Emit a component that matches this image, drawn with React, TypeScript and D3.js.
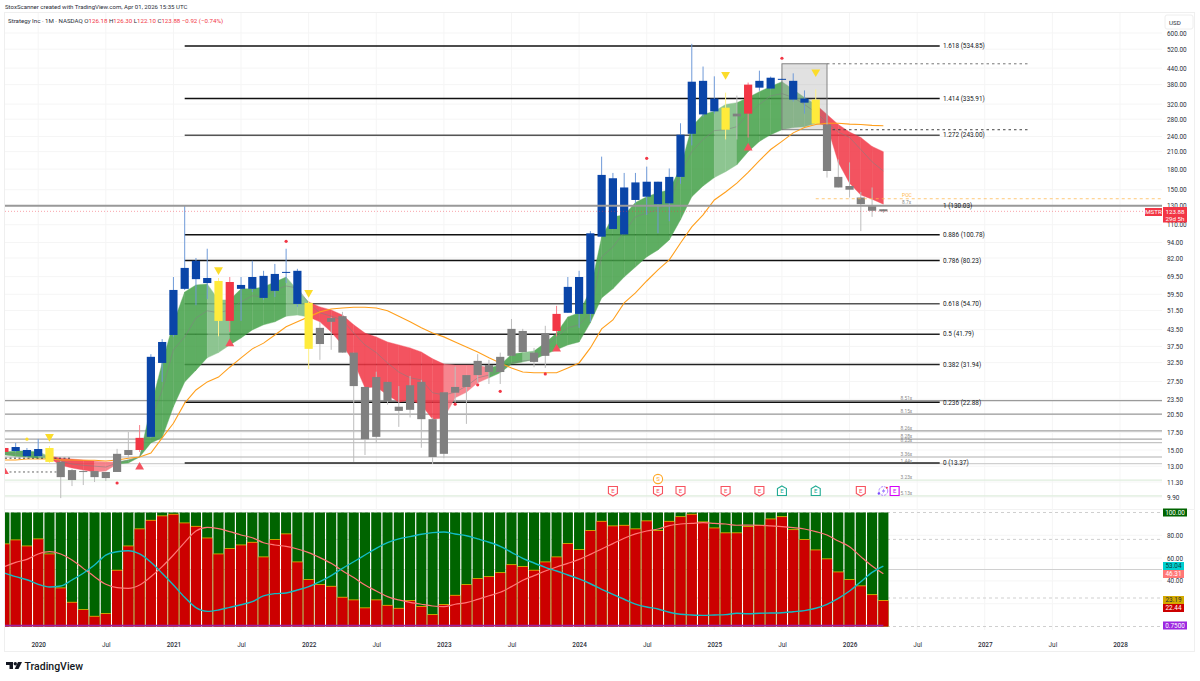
import { useRef, useEffect } from "react";
import * as d3 from "d3";

// months are counted from Jan 2020 = 0, first bar is Oct 2019
const firstMonth = -3;

const opens = [14.74,14.87,15.0,14.2,15.27,13.5,11.5,12.45,12.45,11.7,12.35,14.35,15.0,16.85,32.4,41.5,62.4,80,68.7,66.9,47,64.6,62.4,70,61.3,72.5,73.2,55.1,38.3,46.6,49,35.5,26.2,16.85,27.4,22,21.4,27.4,19.7,14.5,24.9,26.2,29.1,31.8,29.9,34.5,43,35.5,34.5,43,50.5,50,50,99,166,101,160,141,161,133,168,246,393,300,310,294,294,370,367,400,393,324,333,267,168,155,140,130,126.18];
const highs = [15.27,15.97,15.27,16.55,15.54,13.6,12.68,12.56,12.45,12.35,15.15,17.6,18.7,35,40,69.3,131,82,89,68.7,69.3,69.3,80,73.2,77.8,89,74.5,56,46.6,48.6,50.9,35.5,26.2,30,27.4,26.4,28.9,27.9,20,25,31.3,29.1,35,33.3,35.5,47.8,43.8,37,45,53.7,69.3,73.2,104,201,174,174,174,184,161,181,270,545,446,409,354,345,387,430,408,400,420,361,364,305,196,191,147,153,126.3];
const lows = [14.74,14.74,14.1,14.2,13.37,9.8,10.9,11,11.3,11.4,12.35,13.95,14.75,16.7,27.4,40.8,61.8,54,57,41,42.6,47,60.7,56.6,58.1,65.7,53.2,30.7,33.3,36.4,35.5,13.5,14.35,15.95,22.4,18.4,20,15.3,13.25,13.95,22.8,18.9,27.2,26.9,26.9,34.5,35.7,31.2,31,41,50.5,44.2,46.6,99,106,101,133,120,102,113.5,158,222,286,294,234,234,238,360,364,397,327,294,269,167,153,140,104,118,122.1];
const closes = [15.27,15.4,14.2,15.13,13.5,11.8,12.56,12.35,11.8,12.35,14.5,15.0,16.7,34.2,39,61.8,75.1,68,65.7,47,66.3,62.4,69.3,57.6,71.2,72.2,54.6,36.7,44.2,48.2,35.5,26.4,16.5,28.6,23.1,21.2,26.6,19.7,14.1,25,26.2,29.1,33,29.9,34.2,43.8,35.7,32.7,42.2,50,63.5,69.3,102,171,106,153,137,161,132,168,244,390,292,336,255,287,380,393,404,397,333,336,269,177,153,150,132,124.5,123.88];
// b blue, r red, g grey, y yellow
const candleColors = "r b b b y g g g g g g g r b b b b b b y r b b b b b b y g g g g g g g g g g g g g g g g g g g g g r b b b b b b b b b b b b b b y g r b b b b b y g g g g g g".split(" ");

const ribbonUpper = [14.74,14.87,14.87,14.74,14.2,13.95,13.85,13.73,13.6,13.5,13.5,13.73,14.1,22,32.4,46.2,60.7,64.6,65.2,56.6,56.6,62.4,62.4,63.5,66.3,69.3,61.8,55.6,53.2,51.8,49.5,45.4,42.2,40.8,39,38,37,35.7,33.6,32.1,31.8,31.8,31.8,31,31.8,35,35.5,36,38.7,42.2,48.7,50.5,61.8,98.8,118,120,134,141,146,150,182,262,292,300,319,324,339,357,374,390,364,339,319,292,267,250,238,220,210];
const ribbonLower = [14.35,14.2,14.1,13.95,13.95,13.1,12.8,12.56,12.35,12.45,13.25,13.37,14.1,15.97,16.7,22,27.4,30.4,33.9,35.5,38,40.4,43.4,45.4,46.6,49,49.5,48.7,46.6,42.6,38,32.7,26,26.2,24.4,22.9,23.35,22.4,19.7,19.9,23.8,25,27.2,28.4,29.7,32.1,32.7,33.3,35,36.4,38,39,46.2,57.6,62.4,69.3,75.7,82.8,88,96.2,115,141,155,167,176,187,210,230,244,255,260,262,270,265,191,159,143,138,132];
const ribbonMiddle = [14.5,14.5,14.5,14.35,14.1,13.6,13.25,13.1,13,12.9,13.37,13.73,14.1,19.55,25.5,36.4,40.8,48.2,51.4,50.5,51.8,55.6,58.7,58.1,61.8,64,62.9,55.1,50.5,49,47.4,42.2,38,35.5,32.4,29.9,28.4,27.9,24.9,24.4,25,26.4,28.4,29.1,30.4,32.4,33,33.3,37.3,40.8,44.2,45.4,50.5,82.8,90.4,103,118,122,125.6,133,174,210,234,253,255,262,292,319,344,351,339,319,297,272,250,238,214,192,177];
// g green, l light green, r red, p pink; one per segment
const ribbonStates = "g g g l r r r r p p g g g g g g g g l l g g g g g l l r r r r r r r r r r r r p p p p g g g l g g g g g g g g g g g g g g g g l l g g g g l l l r r r r r r".split(" ");
const slowAverage = [13.73,13.73,13.85,13.85,13.85,13.73,13.73,13.7,13.7,13.6,13.73,13.95,14.1,14.6,16.7,19,22.7,25.5,27.4,28.6,31.2,33.9,36.7,38.6,41.5,44.6,46.6,48.7,50.9,52.2,52.7,53,53,52.7,51.4,49,46.6,44.2,42.2,40.8,39,37.3,35.7,33.9,32.4,31,29.9,29.7,29.7,29.7,31,32.4,37,43.8,47.4,55.1,60.2,66.9,73.8,80.6,93.6,108,120,137,147,159,175,194,214,230,248,260,267,270,270,268,267,265,264];

const priceTicks = [600,520,440,380,320,280,240,210,180,150,130,110,94,82,69.5,59.5,51.5,43.5,37.5,32.5,27.5,23.5,20.5,17.5,15,13,11.3,9.9];
const timeLabels: [number, string][] = [[0,"2020"],[6,"Jul"],[12,"2021"],[18,"Jul"],[24,"2022"],[30,"Jul"],[36,"2023"],[42,"Jul"],[48,"2024"],[54,"Jul"],[60,"2025"],[66,"Jul"],[72,"2026"],[78,"Jul"],[84,"2027"],[90,"Jul"],[96,"2028"]];

const fibLevels: [string, number, string][] = [["1.618",534.85,"#111"],["1.414",335.91,"#111"],["1.272",243,"#555"],["1",130.03,"#999"],["0.886",100.78,"#111"],["0.786",80.23,"#111"],["0.618",54.7,"#555"],["0.5",41.79,"#222"],["0.382",31.94,"#222"],["0.236",22.88,"#111"],["0",13.37,"#222"]];
const profileLevels: [number, string, string][] = [[23.2,"8.51x","#9a9a9a"],[20.6,"8.15x","#999"],[17.75,"8.26x","#a0a0a0"],[16.5,"8.28x","#a8a8a8"],[16,"8.23x","#c4c4c4"],[14.1,"3.36x","#b0b0b0"],[13.3,"1.44x","#d0d0d0"],[11.5,"3.23x","#dfeede"],[10,"5.13x","#dfeede"]];
const lastPriceLevel = 123.88;
const pocLevel = 138.5;
const rangeHigh = 457;
const rangeLow = 255;

const upTriangles: [number, number][] = [[-3,12.4],[9,12.9],[17,38.4],[46,36.7],[63,217]];
const downTriangles: [number, number][] = [[1,16.9],[16,73.8],[24,60.4],[61,415],[69,425]];
const redDots: [number, number][] = [[7,11.2],[22,95],[37,22.5],[39,26.7],[41,25.2],[45,29.4],[54,198],[66,480]];
const yellowDots: [number, number][] = [[-1,16.5]];
const earnings: [number, string][] = [[51,"#f7525f"],[55,"#f7525f"],[57,"#f7525f"],[61,"#f7525f"],[64,"#f7525f"],[66,"#22ab94"],[69,"#22ab94"],[73,"#f7525f"],[76,"#d500f9"]];

const redShare = [72.1,75.6,70.3,76.5,63.3,33.5,20.9,14.5,8.6,11,49,70.3,85.3,92.8,96.7,98.1,90.5,87.5,77.3,63.3,68,71.2,73.5,60.7,75.9,80.9,56.3,40.8,36.4,34.9,25.3,23,16,23,18.2,15.6,22.4,17.2,10.1,18.9,27,36.4,41.7,43.4,46.9,53.9,52.2,49,56.3,60.7,72.4,67.1,83.8,91.9,87.9,88.4,85.3,92.3,83.8,91.9,96,98.1,91.4,86.1,81.8,81.8,87.3,88.4,94,96,84.6,75.9,66.8,59,47.5,40.8,35.3,27.6,22.44];
const tealLine = [46.9,43.7,41,37,34.6,35.5,40.8,46.7,53.9,62.7,65.6,66.5,63.6,56.3,46.7,36.4,25.6,16.5,13.3,14.5,16.8,19.1,21.8,26.8,28.8,29.4,32,34.9,39.3,44.6,51,56.8,62.7,68.6,73.5,76.8,78.8,80.9,82.3,82.9,81.1,79.6,76.8,73.9,70.3,65.1,59.8,55.7,51.9,48.7,45.2,41.7,37.5,32.6,28.2,23.9,19.7,17.1,15.4,12.5,10.7,10.1,9.8,10.1,10.4,11.6,11.2,11.6,11.8,12.1,13,13.9,16,19.5,24.7,31.1,39.3,47.5,53.04];
const salmonLine = [52.5,56.3,58.9,63.6,65.7,63.6,58.4,51,43.7,37,34.1,33.5,36.4,43.7,52.5,62.7,73.8,83.8,87,85.8,83.2,80.3,77.9,73.5,71.5,70.3,68,64.8,60.4,55.4,49,42.9,36.4,31.2,26.2,23.3,21.2,19.5,18,17.4,19.5,20.9,23.8,27,30,35,40.5,44.6,48.7,52.2,55.4,58.9,63.3,68,72.7,77.4,81.2,83.8,85.5,88.5,89.9,90.5,91.1,90.5,89.9,88.8,89,88.8,88.2,87.6,86.7,85.5,83.2,80.3,75,70,61.3,53,46.31];
const baseLine = 0.75;
const oscTicks = [80,60,40,20];
const oscDashed = [100,76.4,25,0];

const candleFill: Record<string, string> = { b: "#0a45a8", r: "#f23645", g: "#808080", y: "#ffeb3b" };
const wickFill: Record<string, string> = { b: "#6f9ad8", r: "#f77f8a", g: "#bdbdbd", y: "#fff18a" };
const ribbonFill: Record<string, string> = { g: "#43a047", l: "#7abc7e", r: "#f23645", p: "#f6717c" };
const font = "Roboto, sans-serif";

export default function App() {
  const ref = useRef<SVGSVGElement | null>(null);

  useEffect(() => {
    const svg = d3.select(ref.current);
    svg.selectAll("*").remove();

    const left = 5;
    const right = 1162;
    const months = d3.range(firstMonth, firstMonth + opens.length);
    const x = d3.scaleLinear().domain([0, 96]).range([38.2, 1120]);
    const y = d3.scaleLog().domain([13.37, 534.85]).range([463, 46]);
    const osc = d3.scaleLinear().domain([0, 100]).range([626.5, 512.5]);

    const defs = svg.append("defs");
    defs.append("clipPath").attr("id", "main").append("rect").attr("x", left).attr("y", 13).attr("width", right - left).attr("height", 495);
    defs.append("clipPath").attr("id", "lower").append("rect").attr("x", left).attr("y", 510).attr("width", right - left).attr("height", 120);

    // frame
    svg.append("rect").attr("width", 1200).attr("height", 681).attr("fill", "#fff");
    svg.append("rect").attr("x", 4.5).attr("y", 12.5).attr("width", 1190).attr("height", 639).attr("fill", "none").attr("stroke", "#efefef");
    svg.append("line").attr("x1", 5).attr("x2", 1195).attr("y1", 509.5).attr("y2", 509.5).attr("stroke", "#f2f2f2");

    // grid
    const grid = svg.append("g").attr("stroke", "#f5f5f5");
    grid.selectAll("line.v").data(timeLabels).join("line").attr("class", "v")
      .attr("x1", (d) => x(d[0])).attr("x2", (d) => x(d[0])).attr("y1", 13).attr("y2", 630);
    grid.selectAll("line.p").data(priceTicks).join("line").attr("class", "p")
      .attr("x1", left).attr("x2", right).attr("y1", (d) => y(d)).attr("y2", (d) => y(d));
    grid.selectAll("line.o").data(oscTicks).join("line").attr("class", "o")
      .attr("x1", left).attr("x2", right).attr("y1", (d) => osc(d)).attr("y2", (d) => osc(d));

    const main = svg.append("g").attr("clip-path", "url(#main)");

    // horizontal levels
    main.selectAll("line.lvl").data(profileLevels).join("line").attr("class", "lvl")
      .attr("x1", left).attr("x2", right).attr("y1", (d) => y(d[0])).attr("y2", (d) => y(d[0]))
      .attr("stroke", (d) => d[2]).attr("stroke-width", 1.2);
    main.selectAll("line.fib").data(fibLevels.filter((d) => d[0] !== "1")).join("line").attr("class", "fib")
      .attr("x1", x(13)).attr("x2", x(80)).attr("y1", (d) => y(d[1])).attr("y2", (d) => y(d[1]))
      .attr("stroke", (d) => d[2]).attr("stroke-width", 1.5);

    // ribbon, one area per month so the colour can step; group opacity hides the seams
    const band = d3.area<number>()
      .x((i) => x(months[i]))
      .y0((i) => y(ribbonLower[i]))
      .y1((i) => y(ribbonUpper[i]));
    const ribbon = main.append("g").attr("opacity", 0.85);
    ribbonStates.forEach((state, i) => {
      ribbon.append("path")
        .attr("d", band([i, i + 1]))
        .attr("fill", ribbonFill[state])
        .attr("stroke", ribbonFill[state])
        .attr("stroke-width", 0.4);
    });
    const line = d3.line<number>().x((_, i) => x(months[i])).y((d) => y(d));
    main.append("path").attr("d", line(ribbonMiddle)).attr("fill", "none").attr("stroke", "#808080").attr("stroke-opacity", 0.6).attr("stroke-width", 0.9);

    // range box
    main.append("rect")
      .attr("x", x(66)).attr("width", x(70) - x(66))
      .attr("y", y(rangeHigh)).attr("height", y(rangeLow) - y(rangeHigh))
      .attr("fill", "#777").attr("fill-opacity", 0.22)
      .attr("stroke", "#777").attr("stroke-width", 0.9);
    main.append("line").attr("x1", x(70)).attr("x2", x(88)).attr("y1", y(rangeHigh)).attr("y2", y(rangeHigh))
      .attr("stroke", "#777").attr("stroke-dasharray", "2.5 3");
    main.append("line").attr("x1", x(70)).attr("x2", x(88)).attr("y1", y(rangeLow)).attr("y2", y(rangeLow))
      .attr("stroke", "#444").attr("stroke-dasharray", "2.5 3");

    main.append("path").attr("d", line(slowAverage)).attr("fill", "none").attr("stroke", "#ff9f1c").attr("stroke-width", 1.1);

    // dashed levels on the far left
    main.append("line").attr("x1", left).attr("x2", x(3)).attr("y1", y(13.95)).attr("y2", y(13.95))
      .attr("stroke", "#444").attr("stroke-dasharray", "2 2.5");
    main.append("line").attr("x1", left).attr("x2", x(2)).attr("y1", y(12.35)).attr("y2", y(12.35))
      .attr("stroke", "#666").attr("stroke-dasharray", "2 2.5");

    // candles
    const bodyWidth = 8.2;
    const candles = main.append("g");
    candles.selectAll("line").data(months).join("line")
      .attr("x1", (d) => x(d)).attr("x2", (d) => x(d))
      .attr("y1", (_, i) => y(highs[i])).attr("y2", (_, i) => y(lows[i]))
      .attr("stroke", (_, i) => wickFill[candleColors[i]]).attr("stroke-width", 1);
    candles.selectAll("rect").data(months).join("rect")
      .attr("x", (d) => x(d) - bodyWidth / 2).attr("width", bodyWidth)
      .attr("y", (_, i) => y(Math.max(opens[i], closes[i])))
      .attr("height", (_, i) => Math.max(1, Math.abs(y(opens[i]) - y(closes[i]))))
      .attr("fill", (_, i) => candleFill[candleColors[i]]);

    // lines on top of the candles
    main.append("line").attr("x1", left).attr("x2", right).attr("y1", y(130.03)).attr("y2", y(130.03))
      .attr("stroke", "#999").attr("stroke-width", 2);
    main.append("line").attr("x1", left).attr("x2", 1144).attr("y1", y(lastPriceLevel)).attr("y2", y(lastPriceLevel))
      .attr("stroke", "#f23645").attr("stroke-opacity", 0.45).attr("stroke-dasharray", "1 2");
    main.append("line").attr("x1", x(69)).attr("x2", right).attr("y1", y(pocLevel)).attr("y2", y(pocLevel))
      .attr("stroke", "#ffb74d").attr("stroke-opacity", 0.75).attr("stroke-dasharray", "3 3");

    // signals
    const triangle = d3.symbol().type(d3.symbolTriangle).size(34);
    main.selectAll("path.up").data(upTriangles).join("path").attr("class", "up").attr("d", triangle)
      .attr("transform", (d) => `translate(${x(d[0])},${y(d[1])})`).attr("fill", "#f4525f");
    main.selectAll("path.down").data(downTriangles).join("path").attr("class", "down").attr("d", triangle)
      .attr("transform", (d) => `translate(${x(d[0])},${y(d[1])}) rotate(180)`).attr("fill", "#fbdc2a");
    main.selectAll("circle.red").data(redDots).join("circle").attr("class", "red")
      .attr("cx", (d) => x(d[0])).attr("cy", (d) => y(d[1])).attr("r", 1.6).attr("fill", "#f23645");
    main.selectAll("circle.yel").data(yellowDots).join("circle").attr("class", "yel")
      .attr("cx", (d) => x(d[0])).attr("cy", (d) => y(d[1])).attr("r", 1.6).attr("fill", "#fbdc2a");

    // events
    const events = main.append("g");
    earnings.forEach(([m, color]) => {
      const g = events.append("g").attr("transform", `translate(${x(m)},491)`);
      const up = color === "#22ab94";
      const square = color === "#d500f9";
      g.append("path")
        .attr("d", square ? "M-4.5 -4.5H4.5V4.5H-4.5Z" : up ? "M0 -5L4.5 -2.5V4.5H-4.5V-2.5Z" : "M-4.5 -4.5H4.5V2.5L0 5L-4.5 2.5Z")
        .attr("fill", "#fff").attr("stroke", color).attr("stroke-width", 1.1);
      g.append("text").attr("text-anchor", "middle").attr("y", 2.2).attr("font-size", 6).attr("font-family", font).attr("fill", color).text("E");
    });
    const split = events.append("g").attr("transform", `translate(${x(55)},479)`);
    split.append("circle").attr("r", 4.6).attr("fill", "#fff").attr("stroke", "#ffa726").attr("stroke-width", 1.1);
    split.append("text").attr("text-anchor", "middle").attr("y", 2.2).attr("font-size", 6).attr("font-family", font).attr("fill", "#ffa726").text("S");
    const news = events.append("g").attr("transform", `translate(${x(75)},491)`);
    news.append("circle").attr("r", 4.4).attr("fill", "#fff").attr("stroke", "#b388ff").attr("stroke-width", 1).attr("stroke-dasharray", "2.5 1");
    news.append("path").attr("d", "M1 -3L-1.5 0.5H0.5L-1 3L2 -0.5H0Z").attr("fill", "#7c4dff");
    news.append("circle").attr("cx", -4.5).attr("cy", 2.5).attr("r", 1.2).attr("fill", "#7c4dff");
    news.append("circle").attr("cx", 3.5).attr("cy", -3.2).attr("r", 1).attr("fill", "#f23645");

    // fib and level labels
    const labels = svg.append("g").attr("font-family", font);
    labels.selectAll("text.fib").data(fibLevels).join("text").attr("class", "fib")
      .attr("x", 943).attr("y", (d) => y(d[1]) + 2.3).attr("font-size", 6.4).attr("fill", "#131722")
      .text((d) => `${d[0]} (${d[1].toFixed(2)})`);
    labels.selectAll("text.lvl").data(profileLevels).join("text").attr("class", "lvl")
      .attr("x", 900.5).attr("y", (d) => y(d[0]) - 0.8).attr("font-size", 4.8).attr("fill", "#8a8a8a")
      .text((d) => d[1]);
    labels.append("text").attr("x", 902).attr("y", y(pocLevel) - 2).attr("font-size", 5).attr("fill", "#ffb74d").text("POC");
    labels.append("text").attr("x", 902).attr("y", y(pocLevel) + 5).attr("font-size", 4.8).attr("fill", "#8a8a8a").text("8.7x");

    // lower pane
    const lower = svg.append("g").attr("clip-path", "url(#lower)");
    lower.selectAll("line.dash").data(oscDashed).join("line").attr("class", "dash")
      .attr("x1", left).attr("x2", right).attr("y1", (d) => osc(d)).attr("y2", (d) => osc(d))
      .attr("stroke", "#cfcfcf").attr("stroke-dasharray", "3 3");
    lower.append("line").attr("x1", left).attr("x2", right).attr("y1", osc(50)).attr("y2", osc(50)).attr("stroke", "#d0d0d0");
    const barWidth = 10.1;
    const bars = lower.append("g");
    bars.selectAll("rect.green").data(months).join("rect").attr("class", "green")
      .attr("x", (d) => x(d) - barWidth / 2).attr("width", barWidth)
      .attr("y", osc(100)).attr("height", osc(0) - osc(100)).attr("fill", "#006400");
    bars.selectAll("rect.yellow").data(months).join("rect").attr("class", "yellow")
      .attr("x", (d) => x(d) - barWidth / 2).attr("width", barWidth)
      .attr("y", (_, i) => osc(redShare[i] + baseLine))
      .attr("height", (_, i) => osc(0) - osc(redShare[i] + baseLine)).attr("fill", "#e0b000");
    bars.selectAll("rect.red").data(months).join("rect").attr("class", "red")
      .attr("x", (d) => x(d) - barWidth / 2).attr("width", barWidth)
      .attr("y", (_, i) => osc(redShare[i]))
      .attr("height", (_, i) => osc(0) - osc(redShare[i])).attr("fill", "#cc0000");
    lower.append("line").attr("x1", left).attr("x2", x(75)).attr("y1", osc(baseLine)).attr("y2", osc(baseLine))
      .attr("stroke", "#a020a0").attr("stroke-width", 1.6);
    const oscLine = d3.line<number>().x((_, i) => x(months[i])).y((d) => osc(d)).curve(d3.curveMonotoneX);
    lower.append("path").attr("d", oscLine(salmonLine)).attr("fill", "none").attr("stroke", "#ff7777").attr("stroke-width", 1.2);
    lower.append("path").attr("d", oscLine(tealLine)).attr("fill", "none").attr("stroke", "#12bcc4").attr("stroke-width", 1.4);

    // price axis
    const priceAxis = svg.append("g").attr("transform", `translate(1163,0)`)
      .call(d3.axisRight(y).tickValues(priceTicks).tickFormat((d) => d3.format(".2f")(d as number)).tickSize(0).tickPadding(4));
    priceAxis.select(".domain").remove();
    priceAxis.selectAll("text").attr("font-family", font).attr("font-size", 6.4).attr("fill", "#2a2e39");

    const usd = svg.append("g");
    usd.append("rect").attr("x", 1165).attr("y", 15).attr("width", 28).attr("height", 14).attr("rx", 2).attr("fill", "#fff").attr("stroke", "#eee");
    usd.append("text").attr("x", 1169).attr("y", 24.5).attr("font-family", font).attr("font-size", 6.2).attr("fill", "#2a2e39").text("USD");

    // last price tags
    const tags = svg.append("g").attr("font-family", font).attr("font-size", 6.2);
    tags.append("rect").attr("x", 1145).attr("y", 208).attr("width", 17).attr("height", 8).attr("fill", "#f23645");
    tags.append("text").attr("x", 1153.5).attr("y", 214.2).attr("text-anchor", "middle").attr("fill", "#fff").text("MSTR");
    tags.append("rect").attr("x", 1163).attr("y", 207).attr("width", 24).attr("height", 15.5).attr("fill", "#f23645");
    tags.append("text").attr("x", 1175).attr("y", 214.2).attr("text-anchor", "middle").attr("fill", "#fff").text(lastPriceLevel.toFixed(2));
    tags.append("text").attr("x", 1175).attr("y", 220.8).attr("text-anchor", "middle").attr("fill", "#fff").text("29d 5h");

    // lower pane axis
    const oscAxis = svg.append("g").attr("transform", "translate(1163,0)")
      .call(d3.axisRight(osc).tickValues(oscTicks.slice(0, 3)).tickFormat((d) => d3.format(".2f")(d as number)).tickSize(0).tickPadding(4));
    oscAxis.select(".domain").remove();
    oscAxis.selectAll("text").attr("font-family", font).attr("font-size", 6.4).attr("fill", "#2a2e39");

    const oscTags: [string, number, number, string, string][] = [
      ["100.00", 512.5, 24, "#006400", "#fff"],
      ["53.04", 566, 21, "#00cfcf", "#0d3b3b"],
      ["46.31", 574, 21, "#ff7777", "#fff"],
      ["23.19", 600, 21, "#d4a900", "#2a2e39"],
      ["22.44", 608, 21, "#cc0000", "#fff"],
      ["0.7500", 625.5, 24, "#9c27e0", "#fff"],
    ];
    const oscTagGroup = svg.append("g").attr("font-family", font).attr("font-size", 6.4);
    oscTags.forEach(([text, cy, w, fill, color]) => {
      oscTagGroup.append("rect").attr("x", 1163).attr("y", cy - 4).attr("width", w).attr("height", 8).attr("fill", fill);
      oscTagGroup.append("text").attr("x", 1163 + w / 2).attr("y", cy + 2.2).attr("text-anchor", "middle").attr("fill", color).text(text);
    });

    // time axis
    const timeAxis = svg.append("g").attr("transform", "translate(0,636)")
      .call(d3.axisBottom(x).tickValues(timeLabels.map((d) => d[0])).tickFormat((_, i) => timeLabels[i][1]).tickSize(0).tickPadding(6));
    timeAxis.select(".domain").remove();
    timeAxis.selectAll("text").attr("font-family", font).attr("font-size", 6.4).attr("fill", "#2a2e39")
      .attr("font-weight", (_, i) => (timeLabels[i][1] === "Jul" ? 400 : 500));

    // titles
    const title = svg.append("g").attr("font-family", font);
    title.append("text").attr("x", 5).attr("y", 9).attr("font-size", 6.05).attr("fill", "#2a2e39")
      .text("StoxScanner created with TradingView.com, Apr 01, 2026 15:35 UTC");
    const legend = title.append("text").attr("x", 8).attr("y", 22.5).attr("font-size", 6.15).attr("fill", "#2a2e39");
    legend.append("tspan").text("Strategy Inc · 1M · NASDAQ  O");
    legend.append("tspan").attr("fill", "#f23645").text("126.18 ");
    legend.append("tspan").text("H");
    legend.append("tspan").attr("fill", "#f23645").text("126.30 ");
    legend.append("tspan").text("L");
    legend.append("tspan").attr("fill", "#f23645").text("122.10 ");
    legend.append("tspan").text("C");
    legend.append("tspan").attr("fill", "#f23645").text("123.88  −0.92 (−0.74%)");

    // logo
    const logo = svg.append("g").attr("transform", "translate(6,662)").attr("fill", "#131722");
    logo.append("path").attr("d", "M0 0H7V7H3.5V3H0Z");
    logo.append("circle").attr("cx", 9.3).attr("cy", 1.7).attr("r", 1.7);
    logo.append("path").attr("d", "M12 0H16L12.5 7H8.7Z");
    logo.append("text").attr("x", 18.5).attr("y", 7.8).attr("font-family", font).attr("font-size", 10.5).attr("font-weight", 500).text("TradingView");
  }, []);

  return <svg ref={ref} width={1200} height={681} style={{ position: "absolute", left: 0, top: 0, display: "block" }}></svg>;
}
